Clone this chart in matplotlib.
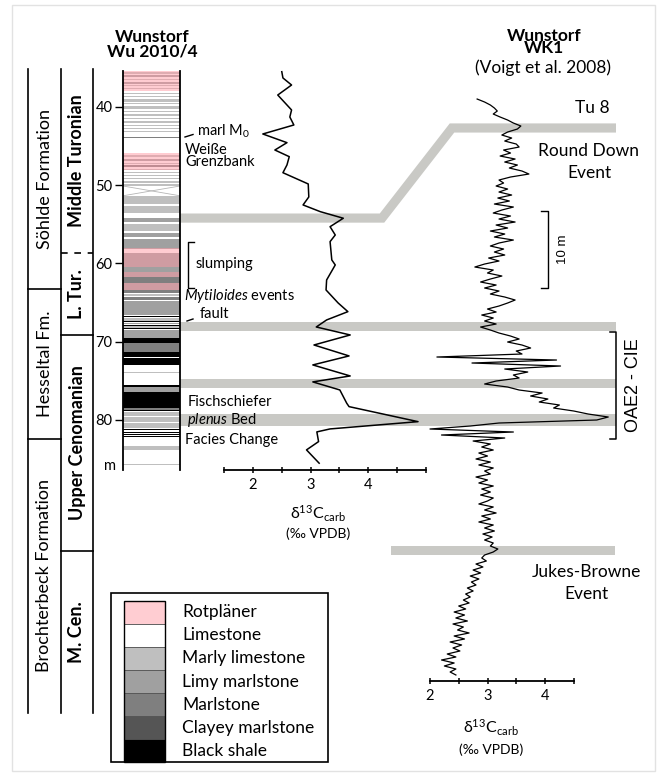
import numpy as np
import matplotlib
matplotlib.use("Agg")
import matplotlib.pyplot as plt
from matplotlib.patches import Rectangle

plt.rcParams['font.family'] = ['Lato', 'DejaVu Sans']
plt.rcParams['mathtext.fontset'] = 'custom'
plt.rcParams['mathtext.rm'] = 'Lato'
plt.rcParams['mathtext.it'] = 'Lato:italic'
plt.rcParams['mathtext.bf'] = 'Lato:bold'

# ---------------- data ----------------
# lithology legend
lith_names = ['Rotpläner', 'Limestone', 'Marly limestone', 'Limy marlstone',
              'Marlstone', 'Clayey marlstone', 'Black shale']
lith_codes = ['R', 'L', 'ML', 'LM', 'M', 'CM', 'B']
lith_colors = ['#ffcdd2', '#ffffff', '#bfbfbf', '#a0a0a0', '#7f7f7f', '#555555', '#000000']

# Wu 2010/4 beds (depth m): top, base, lithology (limestone = background)
bed_top = [35.55, 35.95, 36.4, 36.75, 37.2, 37.55,
           38.15, 38.6, 39.0, 39.5, 39.85, 40.45, 40.85, 41.4, 41.8, 42.3, 42.7, 43.1,
           43.8, 45.2,
           46.15, 46.65, 47.1, 47.45, 47.9,
           48.25, 48.65, 49.05, 49.5, 49.85,
           51.4, 52.6, 54.2, 54.9, 56.05, 56.85,
           58.05, 58.6, 60.45, 61.1, 61.75, 62.5,
           63.45, 63.9, 64.3, 64.8,
           66.75, 67.0, 67.4, 67.6, 67.85, 68.05, 68.25,
           68.45, 69.52, 70.16, 71.31, 72.08,
           73.85, 75.53, 75.78, 76.42, 78.5, 78.78,
           79.0, 79.62, 80.42, 81.12, 81.22, 81.5, 81.85, 82.08,
           83.3, 85.6]
bed_base = [35.75, 36.2, 36.55, 37.0, 37.35, 37.7,
            38.35, 38.75, 39.3, 39.6, 40.2, 40.6, 41.2, 41.55, 42.05, 42.45, 42.85, 43.25,
            43.98, 45.3,
            46.4, 46.9, 47.25, 47.7, 48.05,
            48.45, 48.85, 49.25, 49.7, 50.05,
            52.45, 53.5, 54.75, 55.9, 56.65, 58.05,
            58.15, 60.45, 61.1, 61.75, 62.5, 63.4,
            63.8, 64.2, 64.7, 66.6,
            66.9, 67.3, 67.5, 67.8, 67.95, 68.2, 68.35,
            69.52, 70.16, 71.31, 71.95, 72.97,
            73.95, 75.78, 76.42, 78.47, 78.7, 78.92,
            79.5, 80.3, 81.0, 81.2, 81.32, 81.62, 81.95, 82.2,
            83.8, 85.75]
bed_lith = ['ML', 'LM', 'ML', 'LM', 'ML', 'ML',
            'ML', 'ML', 'ML', 'ML', 'ML', 'ML', 'ML', 'ML', 'ML', 'ML', 'ML', 'ML',
            'M', 'ML',
            'ML', 'LM', 'ML', 'M', 'ML',
            'ML', 'ML', 'ML', 'ML', 'ML',
            'ML', 'ML', 'LM', 'ML', 'LM', 'LM',
            'LM', 'LM', 'LM', 'LM', 'M', 'LM',
            'M', 'ML', 'M', 'LM',
            'B', 'ML', 'B', 'LM', 'B', 'ML', 'B',
            'LM', 'B', 'M', 'B', 'B',
            'ML', 'B', 'LM', 'B', 'M', 'B',
            'ML', 'ML', 'ML', 'ML', 'B', 'B', 'B', 'B',
            'ML', 'ML']
# Rotpläner (red) intervals
red_top = [35.4, 45.9, 58.0, 61.1, 62.5]
red_base = [38.0, 48.1, 60.45, 61.75, 63.4]
# core gap
gap_top, gap_base = 50.1, 51.35

# Wu 2010/4 d13C carb
wu_depth = [35.49, 36.29, 37.19, 38.47, 40.38, 41.28, 42.30, 43.45, 44.56, 45.50,
            46.35, 47.41, 48.40, 49.84, 51.50, 52.52, 53.38, 54.22, 55.30, 56.36,
            57.21, 59.55, 60.19, 62.11, 63.39, 65.05, 66.16, 67.22, 68.12, 69.14,
            70.42, 71.82, 72.97, 74.38, 75.14, 76.17, 77.87, 78.30, 80.22, 81.15,
            81.53, 82.77, 83.83, 85.53]
wu_d13c = [2.50, 2.52, 2.67, 2.43, 2.67, 2.64, 2.71, 2.17, 2.59, 2.38,
           2.63, 2.59, 2.52, 2.96, 2.97, 2.87, 3.17, 3.57, 3.34, 3.43,
           3.34, 3.37, 3.43, 3.28, 3.27, 3.48, 3.65, 3.28, 3.10, 3.69,
           3.06, 3.67, 3.04, 3.69, 3.04, 3.51, 3.63, 3.67, 4.87, 3.34,
           3.11, 3.14, 2.93, 3.15]

# WK1 (Voigt et al. 2008) d13C carb, regular sampling from top to base (m below top)
wk1_top, wk1_base = 3.64, 78.44
wk1_d13c = [2.82, 2.95, 3.05, 3.12, 3.17, 3.10, 3.22, 3.35, 3.45, 3.58,
            3.52, 3.35, 3.25, 3.42, 3.30, 3.50, 3.55, 3.28, 3.40, 3.22,
            3.48, 3.30, 3.52, 3.38, 3.60, 3.72, 3.40, 3.20, 3.28, 3.15,
            3.35, 3.20, 3.42, 3.18, 3.38, 3.12, 3.45, 3.25, 3.10, 3.40,
            3.20, 3.48, 3.15, 3.35, 3.05, 3.30, 3.12, 3.45, 3.20, 3.05,
            3.28, 3.12, 3.30, 3.02, 3.20, 2.95, 2.78, 3.10, 3.00, 3.25,
            3.05, 2.88, 3.15, 2.95, 3.20, 3.05, 3.30, 3.48, 3.35, 3.20,
            3.00, 3.15, 2.90, 3.10, 2.95, 3.15, 2.88, 3.05, 3.20, 3.40,
            3.55, 3.35, 3.60, 3.75, 3.50, 3.60, 2.12, 4.20, 2.73, 4.27,
            3.30, 3.70, 3.45, 3.55, 3.15, 2.95, 3.35, 3.55, 3.95, 3.75,
            4.05, 3.90, 4.25, 4.15, 4.50, 4.75, 5.10, 4.90, 3.20, 2.70,
            2.00, 3.45, 2.20, 3.30, 2.75, 3.05, 2.90, 3.10, 2.85, 3.00,
            2.80, 3.05, 2.85, 3.10, 2.95, 3.05, 2.80, 3.00, 2.85, 3.10,
            2.90, 3.05, 2.88, 3.10, 3.00, 2.85, 3.10, 2.95, 3.15, 2.90,
            3.05, 2.85, 3.10, 2.95, 3.12, 2.92, 3.08, 2.95, 3.10, 3.05,
            3.18, 3.10, 2.95, 2.90, 2.98, 2.80, 2.92, 2.75, 2.88, 2.70,
            2.85, 2.72, 2.80, 2.65, 2.75, 2.62, 2.70, 2.58, 2.68, 2.50,
            2.62, 2.42, 2.60, 2.45, 2.65, 2.40, 2.58, 2.48, 2.68, 2.42,
            2.60, 2.35, 2.55, 2.40, 2.52, 2.30, 2.45, 2.20, 2.42, 2.25,
            2.45, 2.35, 2.45]
wk1_depth = np.linspace(wk1_top, wk1_base, len(wk1_d13c))

# correlation levels
wu_band_depths = [68.1, 75.3, 80.0]      # Wu depth, continue across to WK1
tu8_wu, tu8_wk = 54.2, 7.4               # Tu 8 level in both sections
jb_wk = 62.3                             # Jukes-Browne level in WK1
scale_top, scale_base = 18.2, 28.2       # 10 m scale bar in WK1
oae_top, oae_base = 33.9, 47.8           # OAE2 - CIE in WK1

# chronostratigraphy
formations = ['Söhlde Formation', 'Hesseltal Fm.', 'Brochterbeck Formation']
stages = ['Middle Turonian', 'L. Tur.', 'Upper Cenomanian', 'M. Cen.']

# ---------------- figure ----------------
W, H = 659, 776
fig = plt.figure(figsize=(W / 100, H / 100), dpi=100)


def add_ax(left, top, right, bottom):
    return fig.add_axes([left / W, 1 - bottom / H, (right - left) / W, (bottom - top) / H])


ov = add_ax(0, 0, W, H)
ov.set_xlim(0, W)
ov.set_ylim(H, 0)
ov.axis('off')
ov.set_zorder(0)

ax_lith = add_ax(123, 71, 180, 470)
ax_wu = add_ax(224.3, 71, 425.5, 470)
ax_wk = add_ax(430, 71, 573.75, 681)
for a in (ax_lith, ax_wu, ax_wk):
    a.set_zorder(2)
    a.patch.set_visible(False)

# lithology column
ax_lith.set_xlim(0, 1)
ax_lith.set_ylim(86.4, 35.4)
col = dict(zip(lith_codes, lith_colors))
for t, b, l in zip(bed_top, bed_base, bed_lith):
    ax_lith.axhspan(t, b, color=col[l], lw=0)
for t, b in zip(red_top, red_base):
    ax_lith.axhspan(t, b, color='#ff9aa5', alpha=0.5, lw=0)
ax_lith.plot([0, 1], [gap_top, gap_base], color='#b5b5b5', lw=0.6)
ax_lith.plot([0, 1], [gap_base, gap_top], color='#b5b5b5', lw=0.6)
for s in ('top', 'bottom'):
    ax_lith.spines[s].set_visible(False)
for s in ('left', 'right'):
    ax_lith.spines[s].set_linewidth(1.3)
ax_lith.set_xticks([])
ax_lith.set_yticks([40, 50, 60, 70, 80])
ax_lith.tick_params(axis='y', direction='out', length=6, width=1, pad=1.5, labelsize=10.5)

# Wu curve
ax_wu.set_xlim(1.5, 5.0)
ax_wu.set_ylim(86.4, 35.4)
ax_wu.plot(wu_d13c, wu_depth, color='black', lw=1.1, clip_on=False)

# WK1 curve
ax_wk.set_xlim(2, 4.5)
ax_wk.set_ylim(79.22, 0)
ax_wk.plot(wk1_d13c, wk1_depth, color='black', lw=0.9, clip_on=False)

for a, minor in ((ax_wu, [1.5, 2.5, 3.5, 4.5, 5.0]), (ax_wk, [2.5, 3.5, 4.5])):
    for s in ('top', 'left', 'right'):
        a.spines[s].set_visible(False)
    a.spines['bottom'].set_linewidth(1.3)
    a.set_yticks([])
    a.set_xticks([2, 3, 4])
    a.set_xticks(minor, minor=True)
    a.tick_params(axis='x', which='both', direction='inout', length=5, width=1.1,
                  pad=3, labelsize=10.5)


def ypx(ax, d):
    return H - ax.transData.transform((ax.get_xlim()[0], d))[1]


# correlation bands
band_c = '#c9c9c5'
ov.plot([180, 382, 452, 616], [ypx(ax_wu, tu8_wu), ypx(ax_wu, tu8_wu), ypx(ax_wk, tu8_wk), ypx(ax_wk, tu8_wk)],
        color=band_c, lw=6.6, solid_capstyle='butt', solid_joinstyle='miter', zorder=1)
for d, th in zip(wu_band_depths, [9.3, 9.3, 12.7]):
    y = ypx(ax_wu, d)
    ov.add_patch(Rectangle((180, y - th / 2), 436, th, color=band_c, lw=0, zorder=1))
y = ypx(ax_wk, jb_wk)
ov.add_patch(Rectangle((391, y - 4.5), 224, 9, color=band_c, lw=0, zorder=1))

# chronostratigraphy boxes
for x in (28, 61, 93):
    ov.plot([x, x], [69, 713], color='black', lw=1.2)
ov.plot([28, 61], [289, 289], color='black', lw=1.2)
ov.plot([28, 61], [439, 439], color='black', lw=1.2)
ov.plot([61, 93], [335, 335], color='black', lw=1.2)
ov.plot([61, 93], [551, 551], color='black', lw=1.2)
ov.plot([61, 93], [253, 253], color='black', lw=1.2, ls=(0, (4, 4)))
for name, yc in zip(formations, [179, 364, 576]):
    ov.text(44.5, yc, name, rotation=90, ha='center', va='center', fontsize=13)
for name, yc in zip(stages, [161, 294, 443, 632]):
    ov.text(77, yc, name, rotation=90, ha='center', va='center', fontsize=13, weight='bold')
ov.text(116, 466, 'm', ha='right', va='center', fontsize=10.5)

# titles
ov.text(152, 44, 'Wunstorf\nWu 2010/4', ha='center', va='center', fontsize=12.5,
        weight='bold', linespacing=0.85)
ov.text(544, 42, 'Wunstorf\nWK1', ha='center', va='center', fontsize=12.5,
        weight='bold', linespacing=0.75)
ov.text(543, 68, '(Voigt et al. 2008)', ha='center', va='center', fontsize=12.5)

# annotations on the Wu column
fs = 10.5
ov.plot([185, 193], [137, 134.5], color='black', lw=1)
ov.text(197, 131, 'marl M$_{0}$', ha='left', va='center', fontsize=fs)
ov.text(185, 156, 'Weiße\nGrenzbank', ha='left', va='center', fontsize=fs, linespacing=0.85)
ov.plot([194, 188, 188, 194], [242, 242, 288, 288], color='black', lw=1)
ov.text(196, 264, 'slumping', ha='left', va='center', fontsize=fs)
ov.text(184, 296, '$\\mathit{Mytiloides}$ events', ha='left', va='center', fontsize=fs)
ov.plot([187, 193], [321, 319], color='black', lw=1)
ov.text(200, 314, 'fault', ha='left', va='center', fontsize=fs)
ov.text(188, 402, 'Fischschiefer', ha='left', va='center', fontsize=fs)
ov.text(187, 420, '$\\mathit{plenus}$ Bed', ha='left', va='center', fontsize=fs)
ov.text(185, 440, 'Facies Change', ha='left', va='center', fontsize=fs)

# axis labels
lab = 'δ$^{\\mathregular{13}}$C$_{\\mathregular{carb}}$'
ov.text(318, 514, lab, ha='center', va='center', fontsize=11.5)
ov.text(318, 534, '(‰ VPDB)', ha='center', va='center', fontsize=10)
ov.text(491, 728, lab, ha='center', va='center', fontsize=11.5)
ov.text(491, 750, '(‰ VPDB)', ha='center', va='center', fontsize=10)

# WK1 annotations
ov.text(592, 108, 'Tu 8', ha='center', va='center', fontsize=12.5)
ov.text(589, 162, 'Round Down\nEvent', ha='center', va='center', fontsize=12.5, linespacing=1.45)
ov.text(586, 583, 'Jukes-Browne\nEvent', ha='center', va='center', fontsize=12.5, linespacing=1.4)

ys0, ys1 = ypx(ax_wk, scale_top), ypx(ax_wk, scale_base)
ov.plot([541, 548, 548, 541], [ys0, ys0, ys1, ys1], color='black', lw=1)
ov.text(563, (ys0 + ys1) / 2, '10 m', rotation=90, ha='center', va='center',
        fontsize=9.5, family='Liberation Sans')
yo0, yo1 = ypx(ax_wk, oae_top), ypx(ax_wk, oae_base)
ov.plot([610, 616, 616, 610], [yo0, yo0, yo1, yo1], color='black', lw=1.1)
ov.text(634, (yo0 + yo1) / 2, 'OAE2 - CIE', rotation=90, ha='center', va='center',
        fontsize=13, family='Liberation Sans')

# legend
ov.add_patch(Rectangle((111, 593), 217, 169, fill=False, ec='black', lw=1.2))
for i, (name, c) in enumerate(zip(lith_names, lith_colors)):
    y0 = 601 + i * 23
    ov.add_patch(Rectangle((124, y0), 41, 23, fc=c, ec='#555555', lw=0.6))
    ov.text(182, y0 + 11.5, name, ha='left', va='center', fontsize=12.5)
ov.add_patch(Rectangle((124, 601), 41, 161, fill=False, ec='black', lw=1))

# frame
ov.add_patch(Rectangle((12, 5), 643, 766, fill=False, ec='#e2e2e2', lw=1))

fig.savefig('out.png', dpi=100)
